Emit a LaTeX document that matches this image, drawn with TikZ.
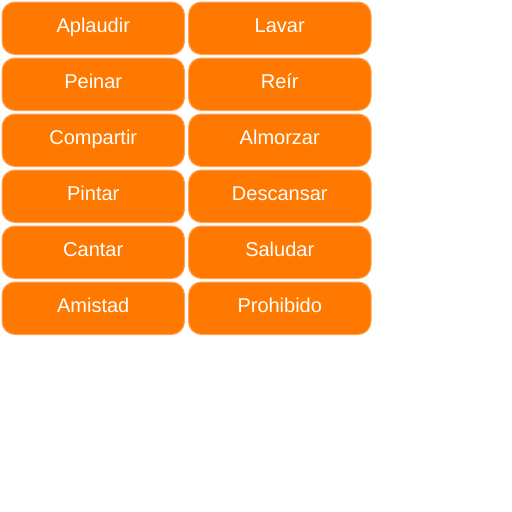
\documentclass[tikz,border=0pt]{standalone}
\usepackage{fontspec}
\setmainfont{Liberation Sans}
\definecolor{btnfill}{HTML}{FF7800}
\definecolor{btnedge}{HTML}{FFA55A}
\tikzset{
  btn/.style={draw=btnedge, line width=1pt, fill=btnfill, rounded corners=13pt,
    minimum width=182.5pt, minimum height=52.5pt, inner sep=0pt, text=white,
    text height=14pt, text depth=6pt,
    font=\fontsize{20pt}{24pt}\selectfont, anchor=north west},
}
\begin{document}
\begin{tikzpicture}[x=1pt,y=-1pt]
\useasboundingbox[fill=white] (0,0) rectangle (512,512);
\foreach \r/\a/\b in {0/Aplaudir/Lavar,1/Peinar/Reír,2/Compartir/Almorzar,3/Pintar/Descansar,4/Cantar/Saludar,5/Amistad/Prohibido}{
  \node[btn] (l\r) at (1.5,{1.5+56*\r}) {\a};
  \node[btn] (r\r) at (188,{1.5+56*\r}) {\b};
}
\end{tikzpicture}
\end{document}
